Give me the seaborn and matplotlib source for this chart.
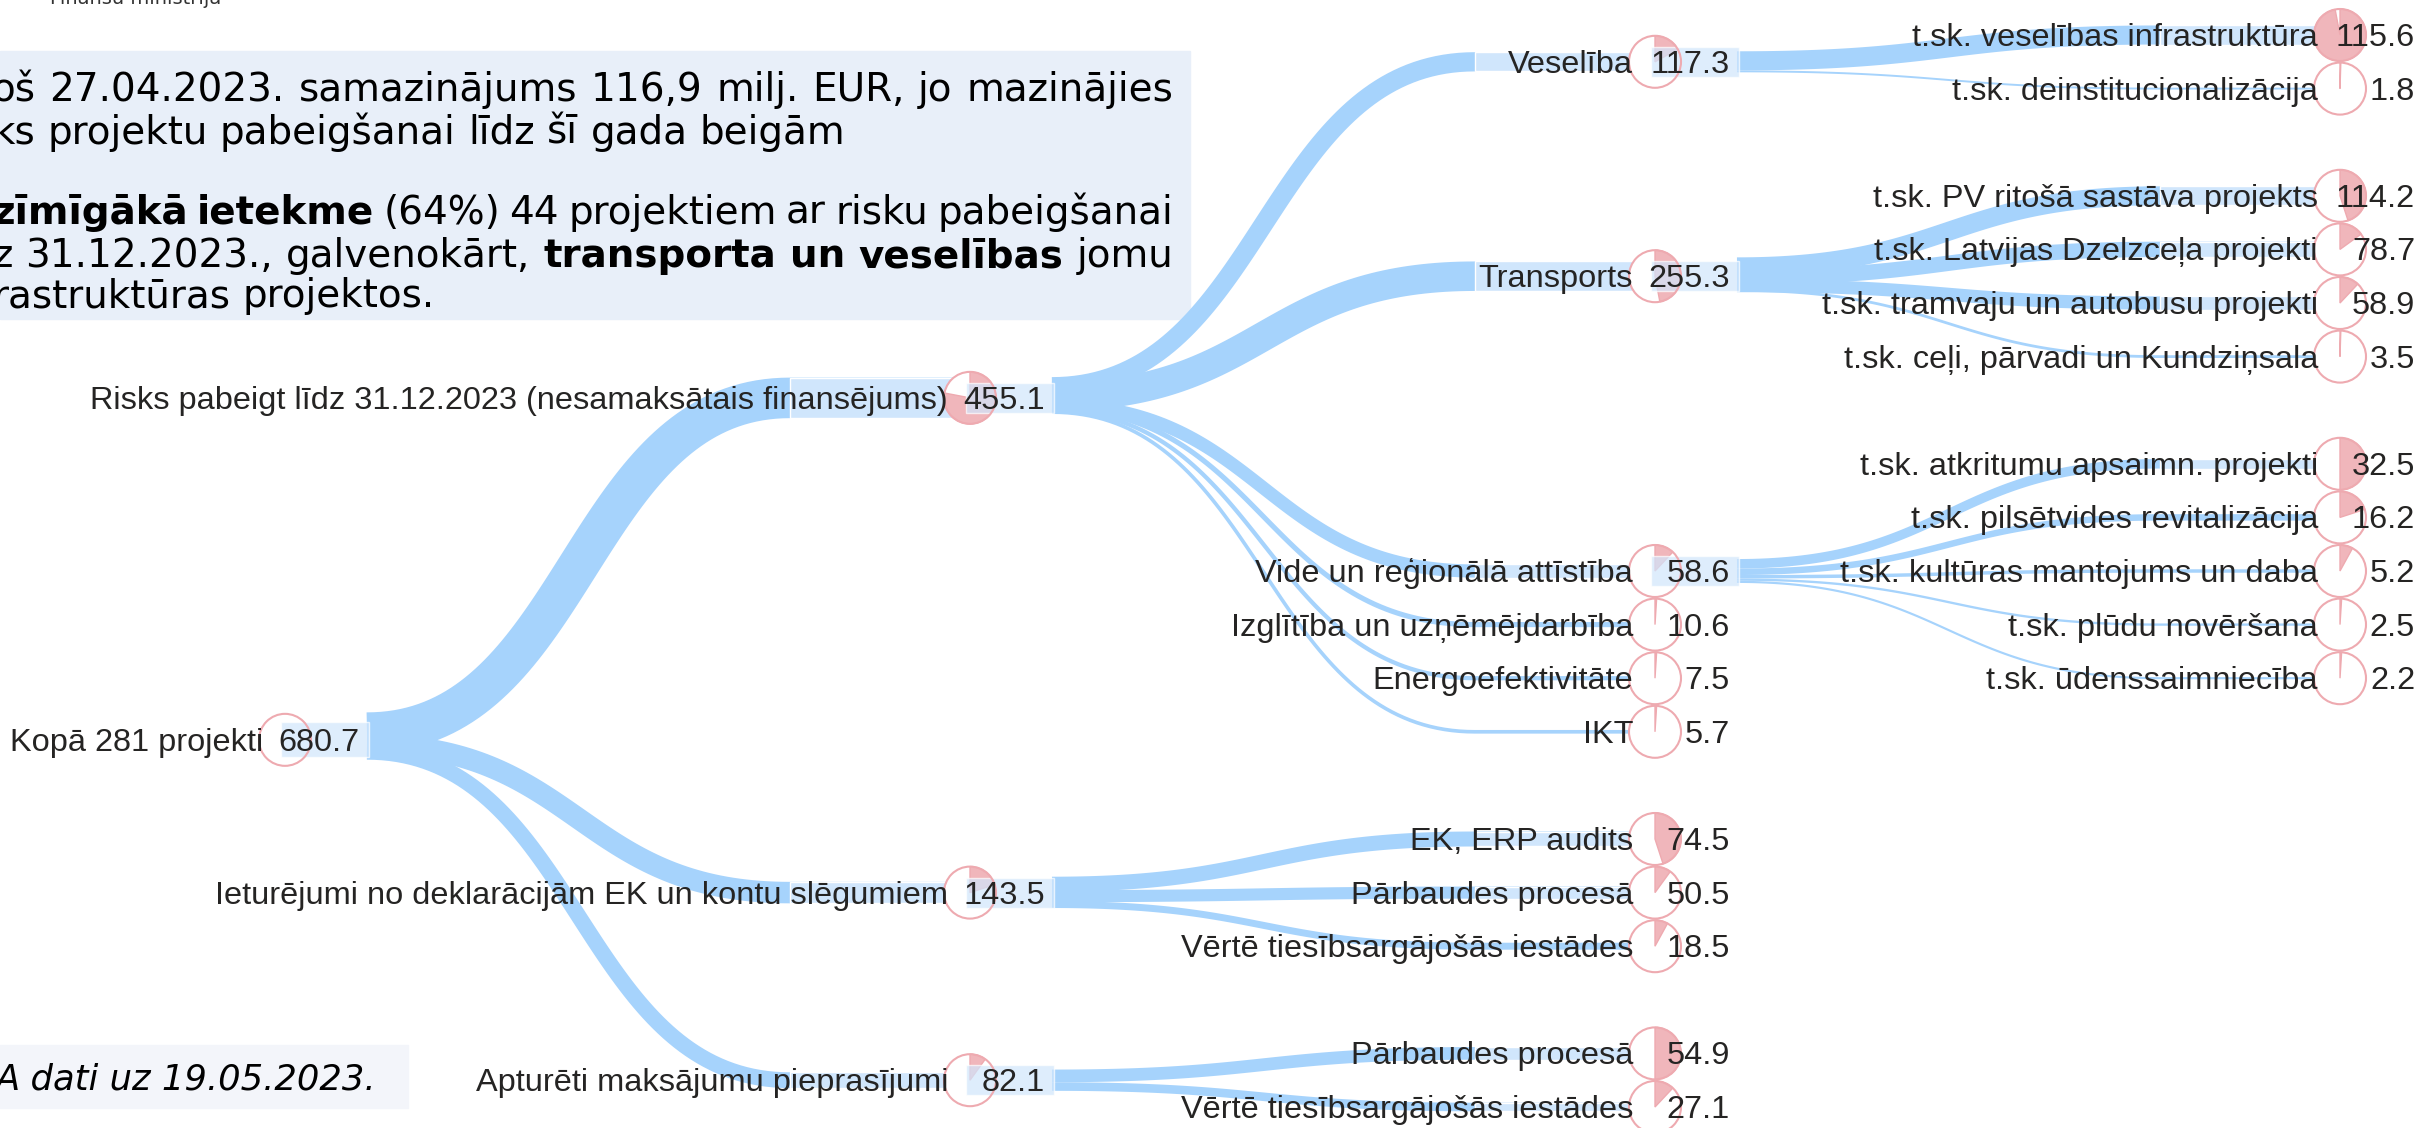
import numpy as np
import pandas as pd
import seaborn as sns
import matplotlib.pyplot as plt
from matplotlib.patches import Circle, Wedge, Rectangle

# ---- data --------------------------------------------------------------
root_label = 'Kopā 281 projekti'
root_value = 680.7
root_share = 0.0

lvl1_labels = ['Risks pabeigt līdz 31.12.2023 (nesamaksātais finansējums)',
               'Ieturējumi no deklarācijām EK un kontu slēgumiem',
               'Apturēti maksājumu pieprasījumi']
lvl1_values = [455.1, 143.5, 82.1]
lvl1_shares = [0.78, 0.2, 0.1]

lvl2_labels = ['Veselība', 'Transports', 'Vide un reģionālā attīstība',
               'Izglītība un uzņēmējdarbība', 'Energoefektivitāte', 'IKT',
               'EK, ERP audits', 'Pārbaudes procesā', 'Vērtē tiesībsargājošās iestādes',
               'Pārbaudes procesā', 'Vērtē tiesībsargājošās iestādes']
lvl2_values = [117.3, 255.3, 58.6, 10.6, 7.5, 5.7, 74.5, 50.5, 18.5, 54.9, 27.1]
lvl2_parent = [0, 0, 0, 0, 0, 0, 1, 1, 1, 2, 2]
lvl2_shares = [0.17, 0.47, 0.12, 0.01, 0.01, 0.01, 0.45, 0.1, 0.08, 0.5, 0.12]

lvl3_labels = ['t.sk. veselības infrastruktūra', 't.sk. deinstitucionalizācija',
               't.sk. PV ritošā sastāva projekts', 't.sk. Latvijas Dzelzceļa projekti',
               't.sk. tramvaju un autobusu projekti', 't.sk. ceļi, pārvadi un Kundziņsala',
               't.sk. atkritumu apsaimn. projekti', 't.sk. pilsētvides revitalizācija',
               't.sk. kultūras mantojums un daba', 't.sk. plūdu novēršana',
               't.sk. ūdenssaimniecība']
lvl3_values = [115.6, 1.8, 114.2, 78.7, 58.9, 3.5, 32.5, 16.2, 5.2, 2.5, 2.2]
lvl3_parent = [0, 0, 1, 1, 1, 1, 2, 2, 2, 2, 2]
lvl3_shares = [0.97, 0.005, 0.45, 0.15, 0.12, 0.005, 0.5, 0.2, 0.08, 0.01, 0.01]

note_lines = [
    ([('oš', 0), ('27.04.2023.', 0), ('samazinājums', 0), ('116,9', 0), ('milj.', 0),
      ('EUR,', 0), ('jo', 0), ('mazinājies', 0)], True),
    ([('ks', 0), ('projektu', 0), ('pabeigšanai', 0), ('līdz', 0), ('šī', 0), ('gada', 0),
      ('beigām', 0)], False),
    ([('zīmīgākā', 1), ('ietekme', 1), ('(64%)', 0), ('44', 0), ('projektiem', 0), ('ar', 0),
      ('risku', 0), ('pabeigšanai', 0)], True),
    ([('z', 0), ('31.12.2023.,', 0), ('galvenokārt,', 0), ('transporta', 1), ('un', 1),
      ('veselības', 1), ('jomu', 0)], True),
    ([('rastruktūras', 0), ('projektos.', 0)], False),
]
footnote = 'A dati uz 19.05.2023.'
header = 'Finanšu ministrija'

# ---- layout (pixels) ----------------------------------------------------
W, H = 2422, 1128
col_x = [285, 970, 1655, 2340]
row0, pitch = 35, 53.6
root_row = 13.15
lvl1_rows = [6.77, 16, 19.5]
lvl2_rows = [0.5, 4.5, 10, 11, 12, 13, 15, 16, 17, 19, 20]
lvl3_rows = [0, 1, 3, 4, 5, 6, 8, 9, 10, 11, 12]
note_y = [87, 130, 210, 253, 293]

DARK = '#a6d3fc'
LIGHT = '#d0e6fc'
PINK = '#f0b6bb'
PINK_EDGE = '#eeaab0'
TXT = '#252423'
R = 26
TAIL = 180
PT = 72 / 100
TREE_FS = 23.4


def width_px(v):
    return 1.4 * v ** 0.55


# build node table
nodes = [dict(label=root_label, value=root_value, share=root_share, level=0,
              row=root_row, parent=None)]
for lab, v, s, r in zip(lvl1_labels, lvl1_values, lvl1_shares, lvl1_rows):
    nodes.append(dict(label=lab, value=v, share=s, level=1, row=r, parent=0))
for lab, v, s, r, p in zip(lvl2_labels, lvl2_values, lvl2_shares, lvl2_rows, lvl2_parent):
    nodes.append(dict(label=lab, value=v, share=s, level=2, row=r, parent=1 + p))
for lab, v, s, r, p in zip(lvl3_labels, lvl3_values, lvl3_shares, lvl3_rows, lvl3_parent):
    nodes.append(dict(label=lab, value=v, share=s, level=3, row=r, parent=4 + p))
for n in nodes:
    n['x'] = col_x[n['level']]
    n['y'] = row0 + pitch * n['row']
    n['w'] = width_px(n['value'])

# links: bezier curve, then a straight run into the child's circle
t = np.linspace(0, 1, 80)
rows = []
sizes = {}
parents = set()
for pi, p in enumerate(nodes):
    kids = [i for i, n in enumerate(nodes) if n['parent'] == pi]
    if not kids:
        continue
    parents.add(pi)
    ws = np.array([nodes[k]['w'] for k in kids])
    tot = ws.sum()
    sc = min(1.0, 30 / tot)
    offs = (np.cumsum(ws) - ws / 2 - tot / 2) * sc
    for k, off in zip(kids, offs):
        c = nodes[k]
        x0, y0 = p['x'] + 82, p['y'] + off
        x1, y1 = c['x'] - TAIL, c['y']
        xm = (x0 + x1) / 2
        bx = (1 - t) ** 3 * x0 + 3 * (1 - t) ** 2 * t * xm + 3 * (1 - t) * t ** 2 * xm + t ** 3 * x1
        by = (1 - t) ** 3 * y0 + 3 * (1 - t) ** 2 * t * y0 + 3 * (1 - t) * t ** 2 * y1 + t ** 3 * y1
        bx = np.append(bx, c['x'])
        by = np.append(by, y1)
        name = f'link{k}'
        sizes[name] = c['w'] * PT
        rows.append(pd.DataFrame({'link': name, 'x': bx, 'y': by}))
links = pd.concat(rows, ignore_index=True)

sns.set_theme(style='white')
plt.rcParams['font.family'] = ['Liberation Sans', 'DejaVu Sans']

fig = plt.figure(figsize=(W / 100, H / 100), dpi=100)
ax = fig.add_axes([0, 0, 1, 1])

# text boxes
ax.add_patch(Rectangle((0, 51), 1190, 268, color='#e8eff9', zorder=0))
ax.add_patch(Rectangle((0, 1045), 408, 63, color='#f3f5fa', zorder=0))

sns.lineplot(data=links, x='x', y='y', size='link', sizes=sizes, color=DARK,
             estimator=None, sort=False, legend=False, ax=ax,
             solid_capstyle='butt', zorder=1)

# light tails near each child (only where the ribbon is wide enough to show)
for n in nodes[1:]:
    if n['w'] > 8:
        ax.barh(n['y'], TAIL, left=n['x'] - TAIL, height=n['w'], color=LIGHT, zorder=1.5)

# nodes
for i, n in enumerate(nodes):
    cx, cy = n['x'], n['y']
    ax.add_patch(Circle((cx, cy), R, facecolor='white', edgecolor='none', zorder=2))
    if n['share'] > 0:
        ax.add_patch(Wedge((cx, cy), R, 270, 270 + 360 * n['share'], facecolor=PINK,
                           edgecolor=PINK_EDGE, lw=1, zorder=2.1))
    if i in parents:
        ax.barh(cy, 88, left=cx - 4, height=35 if n['level'] == 0 else 30,
                color=LIGHT, alpha=0.7, zorder=2.5)
    ax.add_patch(Circle((cx, cy), R, fill=False, edgecolor=PINK_EDGE, lw=1.5, zorder=3))
    ax.text(cx - 22, cy + 11, n['label'], ha='right', va='baseline', fontsize=TREE_FS,
            color=TXT, zorder=5)
    ax.text(cx + 75, cy + 11, f"{n['value']:.1f}", ha='right', va='baseline',
            fontsize=TREE_FS, color=TXT, zorder=5)

# note text, justified like in the slide
renderer = fig.canvas.get_renderer()
fs = 28
space = 0.318 * fs / PT
for (tokens, justify), y in zip(note_lines, note_y):
    texts = [ax.text(0, y + 14, w, fontsize=fs, family='DejaVu Sans',
                     fontweight='bold' if b else 'normal', va='baseline', ha='left',
                     color='black', zorder=6) for w, b in tokens]
    widths = [tx.get_window_extent(renderer).width for tx in texts]
    left, right = -8, 1173
    gap = (right - left - sum(widths)) / (len(texts) - 1) if justify else space
    gap = max(gap, 0.6 * space)
    x = left
    for tx, w in zip(texts, widths):
        tx.set_x(x)
        x += w + gap

ax.text(-4, 1077 + 13, footnote, fontsize=25.5, family='DejaVu Sans', style='italic',
        va='baseline', color='black', zorder=6)
ax.text(50, 4, header, fontsize=14, family='DejaVu Sans', va='baseline', color='#333333')

ax.set_xlim(0, W)
ax.set_ylim(H, 0)
ax.axis('off')

fig.savefig('out.png', dpi=100)
